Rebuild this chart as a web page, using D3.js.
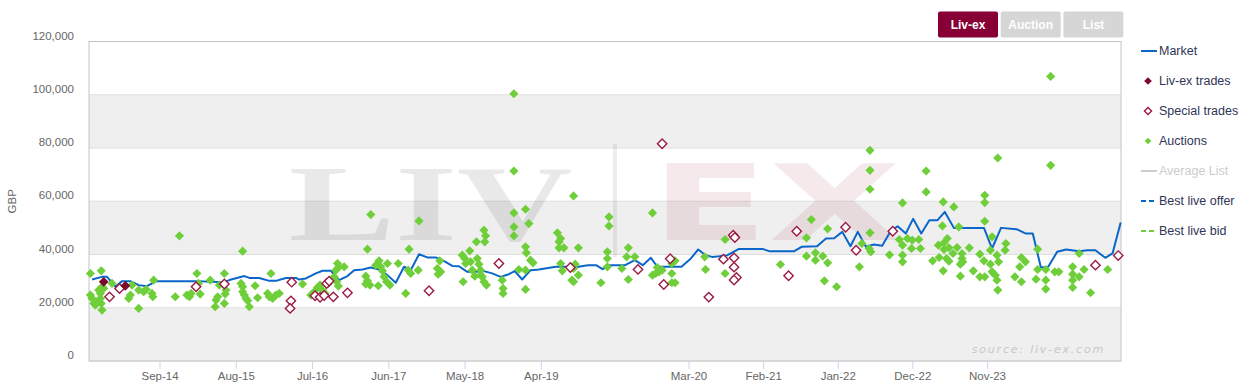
<!DOCTYPE html>
<html>
<head>
<meta charset="utf-8">
<script src="https://cdn.jsdelivr.net/npm/d3@7"></script>
<style>
  body { margin: 0; background: #fff; }
  svg { display: block; font-family: "Liberation Sans", Arial, sans-serif; }
</style>
</head>
<body>
<svg id="chart" width="1255" height="391"></svg>
<script>
// data (x = decimal year, y = GBP)
var market = [
  [2013.85,30640],[2013.97,31600],[2014.03,31600],[2014.13,27900],[2014.21,30000],[2014.31,30000],
  [2014.41,28500],[2014.51,28100],[2014.62,30000],[2015.10,30000],[2015.44,29600],[2015.50,30400],
  [2015.68,31900],[2015.74,31200],[2015.86,31200],[2015.98,30100],[2016.06,30100],[2016.18,31200],
  [2016.30,31200],[2016.34,30600],[2016.42,31000],[2016.54,32900],[2016.62,33900],[2016.72,33900],
  [2016.82,30400],[2016.92,31900],[2017.00,34100],[2017.10,34400],[2017.20,35100],[2017.30,34400],
  [2017.40,32250],[2017.50,29400],[2017.60,35400],[2017.68,34100],[2017.78,40100],[2017.88,38900],
  [2017.98,38900],[2018.06,37900],[2018.18,35700],[2018.26,35600],[2018.36,33500],[2018.46,33500],
  [2018.56,33750],[2018.66,32900],[2018.76,31600],[2018.86,32600],[2018.93,33750],[2019.02,30600],
  [2019.12,34100],[2019.22,34400],[2019.34,35400],[2019.42,35400],[2019.48,35400],[2019.54,36000],
  [2019.59,36000],[2019.63,34500],[2019.67,36000],[2019.77,36000],[2019.83,37900],[2019.88,36000],
  [2019.93,38750],[2019.97,35400],[2020.06,35400],[2020.12,35400],[2020.19,38500],[2020.28,41900],
  [2020.37,39750],[2020.45,39100],[2020.54,39300],[2020.64,39750],[2020.78,42100],[2021.07,42100],
  [2021.15,41250],[2021.46,41250],[2021.55,42900],[2021.74,43100],[2021.85,46000],[2021.95,46100],
  [2022.05,48500],[2022.15,43100],[2022.24,48500],[2022.34,42900],[2022.44,43750],[2022.54,43250],
  [2022.65,49100],[2022.73,50600],[2022.83,47900],[2022.92,53400],[2023.02,47900],[2023.12,52900],
  [2023.22,52900],[2023.31,56000],[2023.42,50000],[2023.79,50000],[2023.89,42250],[2024.00,50000],
  [2024.19,49500],[2024.30,47900],[2024.39,47900],[2024.49,35100],[2024.58,35400],[2024.69,41000],
  [2024.80,41900],[2024.96,41250],[2025.06,41600],[2025.16,41600],[2025.28,38750],[2025.37,40400],
  [2025.47,52000]
];

var livexTrades = [[2013.99,29750],[2014.25,28250]];

var specialTrades = [
  [2014.06,24100],[2014.18,27250],[2015.10,27900],[2015.44,28900],[2016.25,29600],[2016.24,22600],
  [2016.23,19750],[2016.53,24500],[2016.59,23900],[2016.64,24600],[2016.75,24100],[2016.67,29100],
  [2016.70,30000],[2016.92,25600],[2017.90,26400],[2018.74,36600],[2019.43,35100],[2019.85,34400],
  [2020.00,81600],[2020.01,28750],[2020.05,38400],[2020.41,24000],[2020.59,38250],[2020.71,47250],
  [2020.73,46400],[2020.72,38750],[2020.72,35250],[2020.75,31400],[2020.72,30400],[2021.39,32000],
  [2021.49,48750],[2022.09,50250],[2022.22,41600],[2022.67,48750],[2025.16,36000],[2025.44,39600]
];

var auctions = [
  [2013.83,32875],[2013.96,33875],[2013.83,24750],[2013.85,23500],[2013.87,21625],[2013.89,21000],
  [2013.93,26625],[2013.95,25375],[2013.95,23500],[2013.97,27875],[2013.96,21625],[2013.97,19125],
  [2013.99,27250],[2013.91,22250],[2014.09,29125],[2014.31,24750],[2014.33,28500],[2014.29,23500],
  [2014.41,19750],[2014.41,26625],[2014.47,26000],[2014.50,26875],[2014.57,25375],[2014.58,24125],
  [2014.59,30375],[2014.85,24125],[2014.90,47000],[2014.99,24750],[2015.02,24125],[2015.04,25375],
  [2015.11,32875],[2015.13,29125],[2015.15,25125],[2015.27,30375],[2015.33,20375],[2015.34,22875],
  [2015.36,24125],[2015.38,28500],[2015.44,32875],[2015.44,21625],[2015.46,26625],[2015.45,25125],
  [2015.64,29125],[2015.66,27875],[2015.66,41250],[2015.66,26000],[2015.68,24750],[2015.70,23500],
  [2015.72,22625],[2015.74,20375],[2015.81,28250],[2015.84,23750],[2015.96,25375],[2015.98,24125],
  [2016.00,32875],[2016.02,23500],[2016.06,24750],[2016.10,25375],
  [2016.38,28875],[2016.48,24750],[2016.52,26000],[2016.56,27625],[2016.59,28500],[2016.62,26625],
  [2016.65,25375],[2016.69,29125],[2016.76,31625],[2016.78,34125],[2016.80,36625],[2016.82,35375],
  [2016.79,29750],[2016.81,28125],[2016.88,35375],[2017.16,42000],[2017.20,55000],[2017.14,31875],
  [2017.16,30125],[2017.14,28875],[2017.19,28500],[2017.26,36000],[2017.30,37625],[2017.32,35375],
  [2017.34,33875],[2017.36,31625],[2017.39,29750],[2017.40,36625],[2017.43,28500],[2017.29,28250],
  [2017.53,36625],[2017.62,25375],[2017.66,42000],[2017.65,34125],[2017.68,32875],[2017.77,34125],
  [2017.78,52625],[2018.00,34750],[2018.03,37625],[2018.04,33500],[2018.01,32625],[2018.30,39750],
  [2018.33,38500],[2018.34,36625],[2018.39,41375],[2018.40,37250],[2018.42,34125],[2018.45,31875],
  [2018.31,29750],[2018.47,44750],[2018.56,49125],[2018.58,47000],[2018.57,44750],[2018.48,38500],
  [2018.50,36375],[2018.52,34125],[2018.54,31625],[2018.56,29750],[2018.59,28500],[2018.52,32250],
  [2018.78,30375],[2018.79,27250],[2018.79,25375],
  [2018.92,100375],[2018.92,71375],[2018.92,55625],[2018.92,50375],[2018.92,47000],[2019.06,57000],
  [2019.10,51625],[2019.06,42875],[2019.07,40625],[2019.12,37875],[2019.15,36875],[2019.06,34125],
  [2018.98,34375],[2019.06,26875],[2019.35,48125],[2019.37,46000],[2019.36,44750],[2019.36,42500],
  [2019.39,42500],[2019.45,62000],[2019.48,42500],[2019.37,36625],[2019.38,33875],[2019.45,34750],
  [2019.46,36375],[2019.48,32250],[2019.44,30375],[2019.45,29750],[2019.62,29375],[2019.66,41000],
  [2019.66,38500],[2019.67,54125],[2019.67,50750],[2019.66,35375],[2019.75,34750],[2019.78,39125],
  [2019.79,42500],[2019.83,39125],[2019.79,30625],[2019.94,55625],[2019.94,32250],[2019.96,32875],
  [2019.98,33500],[2020.00,34125],[2019.97,35125],[2020.06,36625],[2020.06,32875],[2020.06,29375],
  [2020.08,29375],[2020.08,37625],[2020.36,39125],[2020.37,34375],
  [2020.61,45625],[2020.61,32875],[2021.29,36250],[2021.61,46250],[2021.67,53125],[2021.61,39375],
  [2021.72,40625],[2021.72,37875],[2021.81,39375],[2021.87,49625],[2021.87,36875],[2021.83,30125],
  [2021.98,27875],[2022.26,35375],[2022.29,44125],[2022.39,79125],[2022.39,71625],[2022.39,64500],
  [2022.39,48125],[2022.38,42250],[2022.40,41000],[2022.63,39875],[2022.79,59375],[2022.75,45625],
  [2022.79,43500],[2022.85,46000],[2022.90,42250],[2022.91,45375],[2022.99,45625],[2023.01,42250],
  [2022.79,39750],[2022.79,37250],[2023.08,71375],[2023.08,63500],
  [2023.16,37625],[2023.24,38875],[2023.29,59750],[2023.28,50750],[2023.23,43500],[2023.30,44375],
  [2023.34,46000],[2023.30,41875],[2023.36,42500],[2023.33,38500],[2023.36,37500],[2023.29,33875],
  [2023.42,57875],[2023.48,50375],[2023.41,40375],[2023.46,42625],[2023.52,40375],[2023.52,38500],
  [2023.50,36375],[2023.53,37250],[2023.50,31875],[2023.61,42500],[2023.66,33875],[2023.74,40125],
  [2023.74,31625],[2023.80,62250],[2023.80,59500],[2023.80,52500],[2023.80,31625],[2023.79,37625],
  [2023.87,41625],[2023.89,46625],[2023.87,36375],[2023.89,33500],[2023.93,32250],[2023.95,30375],
  [2023.96,26625],[2023.96,76250],[2023.95,39750],[2023.97,37250],[2024.06,44125],[2024.05,41625],
  [2024.17,31625],[2024.23,35375],[2024.25,29750],[2024.25,38875],[2024.30,37250],[2024.43,30750],
  [2024.45,42000],[2024.45,34375],[2024.55,34375],[2024.55,30375],[2024.55,27000],[2024.61,106875],
  [2024.61,73500],[2024.66,33500],[2024.71,33500],[2024.88,35375],[2024.88,32625],[2024.88,30375],
  [2024.88,27625],[2024.96,40375],[2024.96,31625],[2025.02,34375],[2025.10,25625],[2025.31,34375]
];

var xTickLabels = ["Sep-14","Aug-15","Jul-16","Jun-17","May-18","Apr-19","Mar-20","Feb-21","Jan-22","Dec-22","Nov-23"];
var yTicks = [0, 20000, 40000, 60000, 80000, 100000, 120000];
var legendItems = [
  {name: "Market", kind: "line", color: "#0a66c8"},
  {name: "Liv-ex trades", kind: "filled", color: "#7a0a2e"},
  {name: "Special trades", kind: "hollow", color: "#9b1b45"},
  {name: "Auctions", kind: "auction", color: "#6fcf3a"},
  {name: "Average List", kind: "line", color: "#cccccc", hidden: true},
  {name: "Best live offer", kind: "dash", color: "#0a66c8"},
  {name: "Best live bid", kind: "dash", color: "#6fcf3a"}
];
var buttons = [
  {name: "Liv-ex", active: true},
  {name: "Auction", active: false},
  {name: "List", active: false}
];

var svg = d3.select("#chart");
var margin = {left: 89, top: 41.5, right: 134, bottom: 30};
var W = 1255 - margin.left - margin.right;
var H = 391 - margin.top - margin.bottom;

var g = svg.append("g").attr("transform", "translate(" + margin.left + "," + margin.top + ")");

// ordinal-like axis: the Apr-19..Mar-20 stretch is wider than the rest
var x = d3.scaleLinear()
  .domain([2013.813, 2019.25, 2020.1667, 2025.474])
  .range([0, W * 0.4383, W * 0.5814, W]);
var y = d3.scaleLinear().domain([0, 120000]).range([H, 0]);

function labelToYear(s) {
  var d = d3.timeParse("%b-%y")(s);
  return d.getFullYear() + d.getMonth() / 12;
}

// alternating bands
g.selectAll("rect.band")
  .data(d3.range(0, 6))
  .enter().append("rect")
  .attr("class", "band")
  .attr("x", 0)
  .attr("width", W)
  .attr("y", function(i) { return y((i + 1) * 20000); })
  .attr("height", function(i) { return y(i * 20000) - y((i + 1) * 20000); })
  .attr("fill", function(i) { return i % 2 == 0 ? "#efefef" : "#ffffff"; });

g.selectAll("line.grid")
  .data(yTicks)
  .enter().append("line")
  .attr("class", "grid")
  .attr("x1", 0).attr("x2", W)
  .attr("y1", function(d) { return y(d); })
  .attr("y2", function(d) { return y(d); })
  .attr("stroke", "#dedede");

// watermark
var wm = g.append("g");
wm.append("text")
  .attr("x", x(2016.21)).attr("y", y(45500))
  .attr("font-family", "'Liberation Serif', serif")
  .attr("font-weight", "bold")
  .attr("font-size", 108)
  .attr("textLength", 284)
  .attr("lengthAdjust", "spacingAndGlyphs")
  .attr("fill", "rgba(0,0,0,0.085)")
  .text("LIV");
wm.append("rect")
  .attr("x", 524).attr("width", 4)
  .attr("y", y(81500)).attr("height", y(39000) - y(81500))
  .attr("fill", "rgba(0,0,0,0.07)");
wm.append("text")
  .attr("x", 562).attr("y", y(45500))
  .attr("font-family", "'DejaVu Sans', sans-serif")
  .attr("font-weight", "bold")
  .attr("font-size", 106)
  .attr("textLength", 250)
  .attr("lengthAdjust", "spacingAndGlyphs")
  .attr("fill", "rgba(150,0,40,0.085)")
  .text("EX");

// plot border
g.append("rect")
  .attr("x", 0).attr("y", 0).attr("width", W).attr("height", H)
  .attr("fill", "none").attr("stroke", "#c4c4c4");

// y labels
g.selectAll("text.ylab")
  .data(yTicks)
  .enter().append("text")
  .attr("class", "ylab")
  .attr("x", -15)
  .attr("y", function(d) { return y(d) - 2; })
  .attr("text-anchor", "end")
  .attr("font-size", 11.5)
  .attr("fill", "#666")
  .text(function(d) { return d3.format(",")(d); });

svg.append("text")
  .attr("transform", "translate(16," + (margin.top + y(60000)) + ") rotate(-90)")
  .attr("text-anchor", "middle")
  .attr("font-size", 11.5)
  .attr("fill", "#666")
  .text("GBP");

// x ticks
var xt = g.selectAll("g.xtick")
  .data(xTickLabels)
  .enter().append("g")
  .attr("class", "xtick")
  .attr("transform", function(d) { return "translate(" + x(labelToYear(d)) + "," + H + ")"; });
xt.append("line").attr("y1", 0).attr("y2", 8).attr("stroke", "#ccd6eb");
xt.append("text")
  .attr("y", 19)
  .attr("text-anchor", "middle")
  .attr("font-size", 11.5)
  .attr("fill", "#666")
  .text(function(d) { return d; });

// source
g.append("text")
  .attr("x", W - 16).attr("y", H - 8)
  .attr("text-anchor", "end")
  .attr("font-family", "'DejaVu Sans', sans-serif")
  .attr("font-style", "italic")
  .attr("font-size", 11)
  .attr("letter-spacing", 1.8)
  .attr("fill", "#c8c8c8")
  .text("source: liv-ex.com");

// market line
var line = d3.line()
  .x(function(d) { return x(d[0]); })
  .y(function(d) { return y(d[1]); });
g.append("path")
  .datum(market)
  .attr("d", line)
  .attr("fill", "none")
  .attr("stroke", "#0a66c8")
  .attr("stroke-width", 2)
  .attr("stroke-linejoin", "round");

var diamond = function(size) { return d3.symbol().type(d3.symbolSquare).size(size)(); };
function place(d) { return "translate(" + x(d[0]) + "," + y(d[1]) + ") rotate(45)"; }

g.selectAll("path.auction")
  .data(auctions)
  .enter().append("path")
  .attr("class", "auction")
  .attr("d", diamond(42))
  .attr("transform", place)
  .attr("fill", "#6fcf3a");

g.selectAll("path.special")
  .data(specialTrades)
  .enter().append("path")
  .attr("class", "special")
  .attr("d", diamond(44))
  .attr("transform", place)
  .attr("fill", "#fff")
  .attr("stroke", "#9b1b45")
  .attr("stroke-width", 1.4);

g.selectAll("path.livex")
  .data(livexTrades)
  .enter().append("path")
  .attr("class", "livex")
  .attr("d", diamond(48))
  .attr("transform", place)
  .attr("fill", "#7a0a2e");

// buttons
var bw = 60, bh = 26, bx0 = 938, by0 = 11.5;
var btn = svg.selectAll("g.btn")
  .data(buttons)
  .enter().append("g")
  .attr("class", "btn")
  .attr("transform", function(d, i) { return "translate(" + (bx0 + i * 62.7) + "," + by0 + ")"; });
btn.append("rect")
  .attr("width", bw).attr("height", bh).attr("rx", 2)
  .attr("fill", function(d) { return d.active ? "#860036" : "#d6d6d6"; });
btn.append("text")
  .attr("x", bw / 2).attr("y", 17)
  .attr("text-anchor", "middle")
  .attr("font-size", 12)
  .attr("font-weight", "bold")
  .attr("fill", "#fff")
  .text(function(d) { return d.name; });

// legend
var lg = svg.selectAll("g.leg")
  .data(legendItems)
  .enter().append("g")
  .attr("class", "leg")
  .attr("transform", function(d, i) { return "translate(1141," + (51 + i * 30) + ")"; });
lg.each(function(d) {
  var s = d3.select(this);
  if (d.kind == "line" || d.kind == "dash") {
    s.append("line").attr("x1", 0).attr("x2", 16).attr("y1", 0).attr("y2", 0)
      .attr("stroke", d.color).attr("stroke-width", 2)
      .attr("stroke-dasharray", d.kind == "dash" ? "5,3" : null);
  } else if (d.kind == "filled") {
    s.append("path").attr("d", diamond(30)).attr("transform", "translate(7,0) rotate(45)").attr("fill", d.color);
  } else if (d.kind == "hollow") {
    s.append("path").attr("d", diamond(26)).attr("transform", "translate(7,0) rotate(45)")
      .attr("fill", "#fff").attr("stroke", d.color).attr("stroke-width", 1.4);
  } else {
    s.append("path").attr("d", diamond(22)).attr("transform", "translate(7,0) rotate(45)").attr("fill", d.color);
  }
  s.append("text")
    .attr("x", 18).attr("y", 0)
    .attr("dy", "0.35em")
    .attr("font-size", 12.5)
    .attr("fill", d.hidden ? "#cccccc" : "#2f3557")
    .text(d.name);
});
</script>
</body>
</html>
